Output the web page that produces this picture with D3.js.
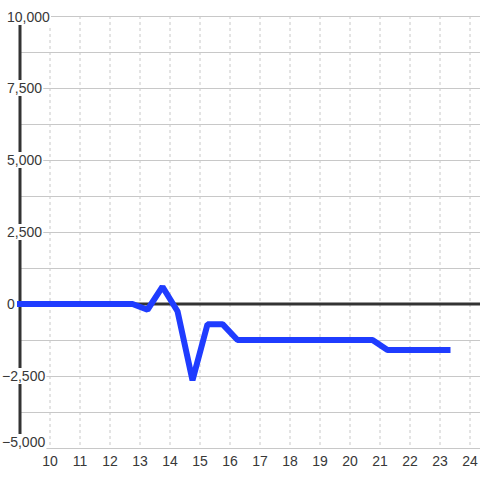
<!DOCTYPE html>
<html>
<head>
<meta charset="utf-8">
<script src="https://cdn.jsdelivr.net/npm/d3@7"></script>
<style>
html,body{margin:0;padding:0;background:#fff;}
svg{display:block;}
text{font-family:"Liberation Sans",Arial,sans-serif;font-size:14px;fill:#383838;}
</style>
</head>
<body>
<svg id="chart" width="480" height="480"></svg>
<script>
const xValues = [9, 12.75, 13.25, 13.75, 14.25, 14.75, 15.25, 15.75, 16.25, 20.75, 21.25, 23.25];
const yValues = [0, 0, -200, 600, -250, -2650, -700, -700, -1250, -1250, -1600, -1600];
const xTicks = [10, 11, 12, 13, 14, 15, 16, 17, 18, 19, 20, 21, 22, 23, 24];
const yTicks = [10000, 7500, 5000, 2500, 0, -2500, -5000];
const yGridTicks = [10000, 8750, 7500, 6250, 5000, 3750, 2500, 1250, 0, -1250, -2500, -3750, -5000];

const svg = d3.select("#chart");
const x = d3.scaleLinear().domain([9, 24 + 1/3]).range([20, 480]);
const y = d3.scaleLinear().domain([-5000, 10000]).range([448, 16]);
const fmt = d3.format(",");

// vertical dashed grid
svg.append("g").selectAll("line").data(xTicks).join("line")
  .attr("x1", d => x(d)).attr("x2", d => x(d))
  .attr("y1", y(10000)).attr("y2", y(-5000))
  .attr("stroke", "#c8c8c8").attr("stroke-width", 1).attr("stroke-dasharray", "3,3");

// horizontal grid
svg.append("g").selectAll("line").data(yGridTicks.filter(d => d !== 0)).join("line")
  .attr("x1", x(9)).attr("x2", 480)
  .attr("y1", d => y(d) + 0.5).attr("y2", d => y(d) + 0.5)
  .attr("stroke", "#c8c8c8").attr("stroke-width", 1);

// zero line
svg.append("line")
  .attr("x1", x(9)).attr("x2", 480)
  .attr("y1", y(0)).attr("y2", y(0))
  .attr("stroke", "#333").attr("stroke-width", 3);

// y axis line
svg.append("line")
  .attr("x1", x(9)).attr("x2", x(9))
  .attr("y1", y(10000)).attr("y2", y(-5000))
  .attr("stroke", "#333").attr("stroke-width", 3);

// data line
const line = d3.line().x((d, i) => x(xValues[i])).y(d => y(d));
svg.append("path")
  .datum(yValues)
  .attr("d", line)
  .attr("fill", "none")
  .attr("stroke", "#1f3cff")
  .attr("stroke-width", 6)
  .attr("stroke-linejoin", "bevel")
  .attr("stroke-linecap", "square");

// y labels with white backgrounds
const yl = svg.append("g");
yTicks.forEach(d => {
  const g = yl.append("g");
  let base = y(d) + 5;
  if (d === 10000) base = y(d) + 6;
  if (d === -5000) base = 447;
  const t = g.append("text")
    .attr("x", d < 0 ? 2 : 7)
    .attr("y", base)
    .text(fmt(d));
  const bb = t.node().getBBox();
  g.insert("rect", "text")
    .attr("x", bb.x).attr("y", bb.y)
    .attr("width", bb.width + 1).attr("height", bb.height)
    .attr("fill", "#fff");
});

// x labels
svg.append("g").selectAll("text").data(xTicks).join("text")
  .attr("x", d => x(d)).attr("y", 466)
  .attr("text-anchor", "middle")
  .text(d => d);
</script>
</body>
</html>
